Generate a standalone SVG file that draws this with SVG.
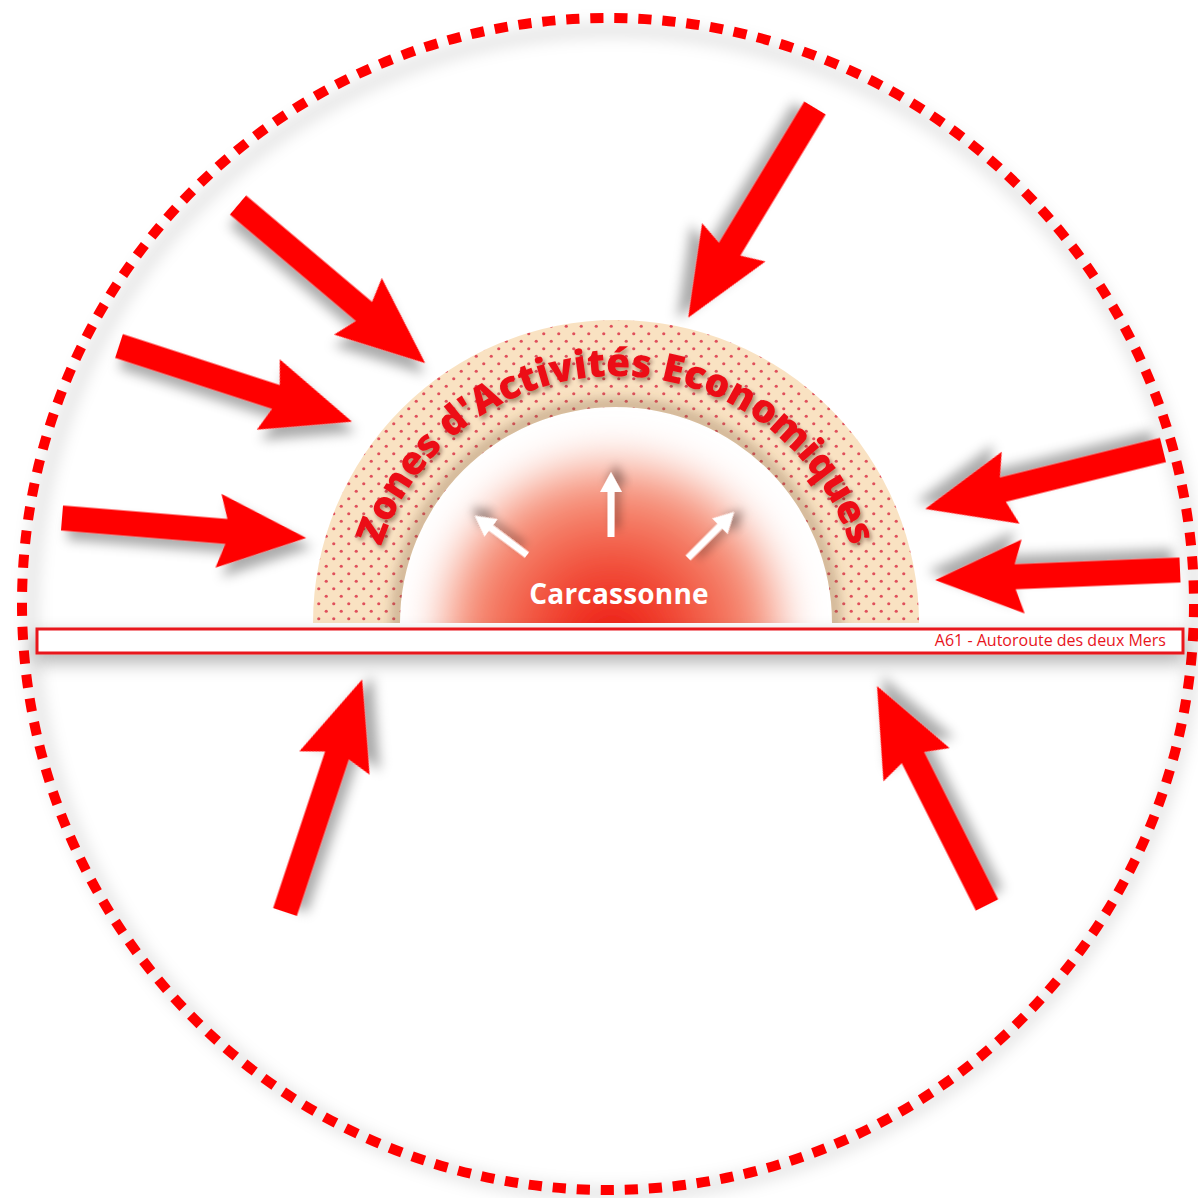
<svg xmlns="http://www.w3.org/2000/svg" width="1198" height="1198" viewBox="0 0 1198 1198">
<style>
.big{fill:#ff0000;filter:url(#shadow)}
.small{fill:#ffffff;filter:url(#wshadow)}
.arctext{font-family:"Open Sans","Liberation Sans",sans-serif;font-weight:800;font-size:39px;fill:#ec0f18}
.city{font-family:"Open Sans","Liberation Sans",sans-serif;font-weight:700;font-size:28px;letter-spacing:0.2px;fill:#ffffff}
.road{font-family:"Open Sans","Liberation Sans",sans-serif;font-size:16px;fill:#e8141c}
</style>
<defs>
<filter id="shadow" x="-30%" y="-30%" width="160%" height="160%">
<feDropShadow dx="7" dy="9" stdDeviation="6" flood-color="#000" flood-opacity="0.33"/>
</filter>
<filter id="wshadow" x="-50%" y="-50%" width="200%" height="200%">
<feDropShadow dx="8" dy="5" stdDeviation="5" flood-color="#000" flood-opacity="0.35"/>
</filter>
<filter id="tshadow" x="-10%" y="-10%" width="120%" height="120%">
<feDropShadow dx="2" dy="3" stdDeviation="2" flood-color="#3a1a10" flood-opacity="0.45"/>
</filter>
<filter id="blur8"><feGaussianBlur stdDeviation="8"/></filter>
<filter id="blur6"><feGaussianBlur stdDeviation="6"/></filter>
<filter id="blurGlow" x="-30%" y="-30%" width="160%" height="160%"><feGaussianBlur stdDeviation="22"/></filter>
<filter id="roadshadow" x="-5%" y="-100%" width="110%" height="400%">
<feDropShadow dx="0" dy="8" stdDeviation="9" flood-color="#000" flood-opacity="0.3"/>
</filter>
<pattern id="dots" width="15" height="15" patternUnits="userSpaceOnUse">
<rect width="15" height="15" fill="#f9e2c2"/>
<circle cx="3.75" cy="3.75" r="1.6" fill="#e0505c"/>
<circle cx="11.25" cy="11.25" r="1.6" fill="#e0505c"/>
</pattern>
<radialGradient id="glow" gradientUnits="userSpaceOnUse" cx="612" cy="640" r="190">
<stop offset="0" stop-color="#ee0e08"/>
<stop offset="0.45" stop-color="#f2543e"/>
<stop offset="0.8" stop-color="#f6957d"/>
<stop offset="1" stop-color="#fbd2c6"/>
</radialGradient>
<clipPath id="innerClip"><path d="M400,623 A216,216 0 0 1 832,623 Z"/></clipPath>
<clipPath id="bandClip"><path d="M313,623 A303,303 0 0 1 919,623 L832,623 A216,216 0 0 0 400,623 Z"/></clipPath>
<path id="bigArrow" d="M0,-12.5 H165 L157,-37 L245,0 L157,37 L165,12.5 H0 Z"/>
<path id="smallArrow" d="M0,-3.5 H45 V-11 L65,0 L45,11 V3.5 H0 Z"/>
<path id="textArc" d="M369,623 A247,247 0 0 1 863,623"/>
</defs>
<rect width="1198" height="1198" fill="#ffffff"/>

<g id="perimeter">
<circle cx="613" cy="612" r="582" fill="none" stroke="#000" stroke-opacity="0.12" stroke-width="12" filter="url(#blur8)"/>
<circle cx="608" cy="604" r="586" fill="none" stroke="#ff0000" stroke-width="10" stroke-dasharray="13.2 10.865"/>
</g>

<g id="zone-activites">
<path d="M313,623 A303,303 0 0 1 919,623 L832,623 A216,216 0 0 0 400,623 Z" fill="url(#dots)"/>
<g clip-path="url(#bandClip)">
<circle cx="616" cy="623" r="218" fill="none" stroke="#7a5a40" stroke-opacity="0.35" stroke-width="14" filter="url(#blur6)"/>
</g>
<text class="arctext" filter="url(#tshadow)"><textPath href="#textArc" startOffset="50%" text-anchor="middle">Zones d'Activités Economiques</textPath></text>
</g>

<g id="carcassonne">
<g clip-path="url(#innerClip)">
<ellipse cx="612" cy="630" rx="170" ry="172" fill="url(#glow)" filter="url(#blurGlow)"/>
</g>
<use href="#smallArrow" class="small" transform="translate(611,537) rotate(-90)"/>
<use href="#smallArrow" class="small" transform="translate(527,555) rotate(-143.13)"/>
<use href="#smallArrow" class="small" transform="translate(688,558) rotate(-45)"/>
<text class="city" x="619" y="604" text-anchor="middle">Carcassonne</text>
</g>

<g id="autoroute-a61">
<rect x="37" y="629" width="1146" height="24" fill="#ffffff" stroke="#e8141c" stroke-width="3" filter="url(#roadshadow)"/>
<text class="road" x="1166" y="646" text-anchor="end">A61 - Autoroute des deux Mers</text>
</g>

<g id="connectors">
<use href="#bigArrow" class="big" transform="translate(815,108) rotate(121.16)"/>
<use href="#bigArrow" class="big" transform="translate(238,205) rotate(40.19)"/>
<use href="#bigArrow" class="big" transform="translate(119,346) rotate(17.99)"/>
<use href="#bigArrow" class="big" transform="translate(62,518) rotate(4.67)"/>
<use href="#bigArrow" class="big" transform="translate(1163,450) rotate(166.08)"/>
<use href="#bigArrow" class="big" transform="translate(1180,570) rotate(177.64)"/>
<use href="#bigArrow" class="big" transform="translate(285,912) rotate(-71.64)"/>
<use href="#bigArrow" class="big" transform="translate(987,905) rotate(-116.67)"/>
</g>
</svg>
